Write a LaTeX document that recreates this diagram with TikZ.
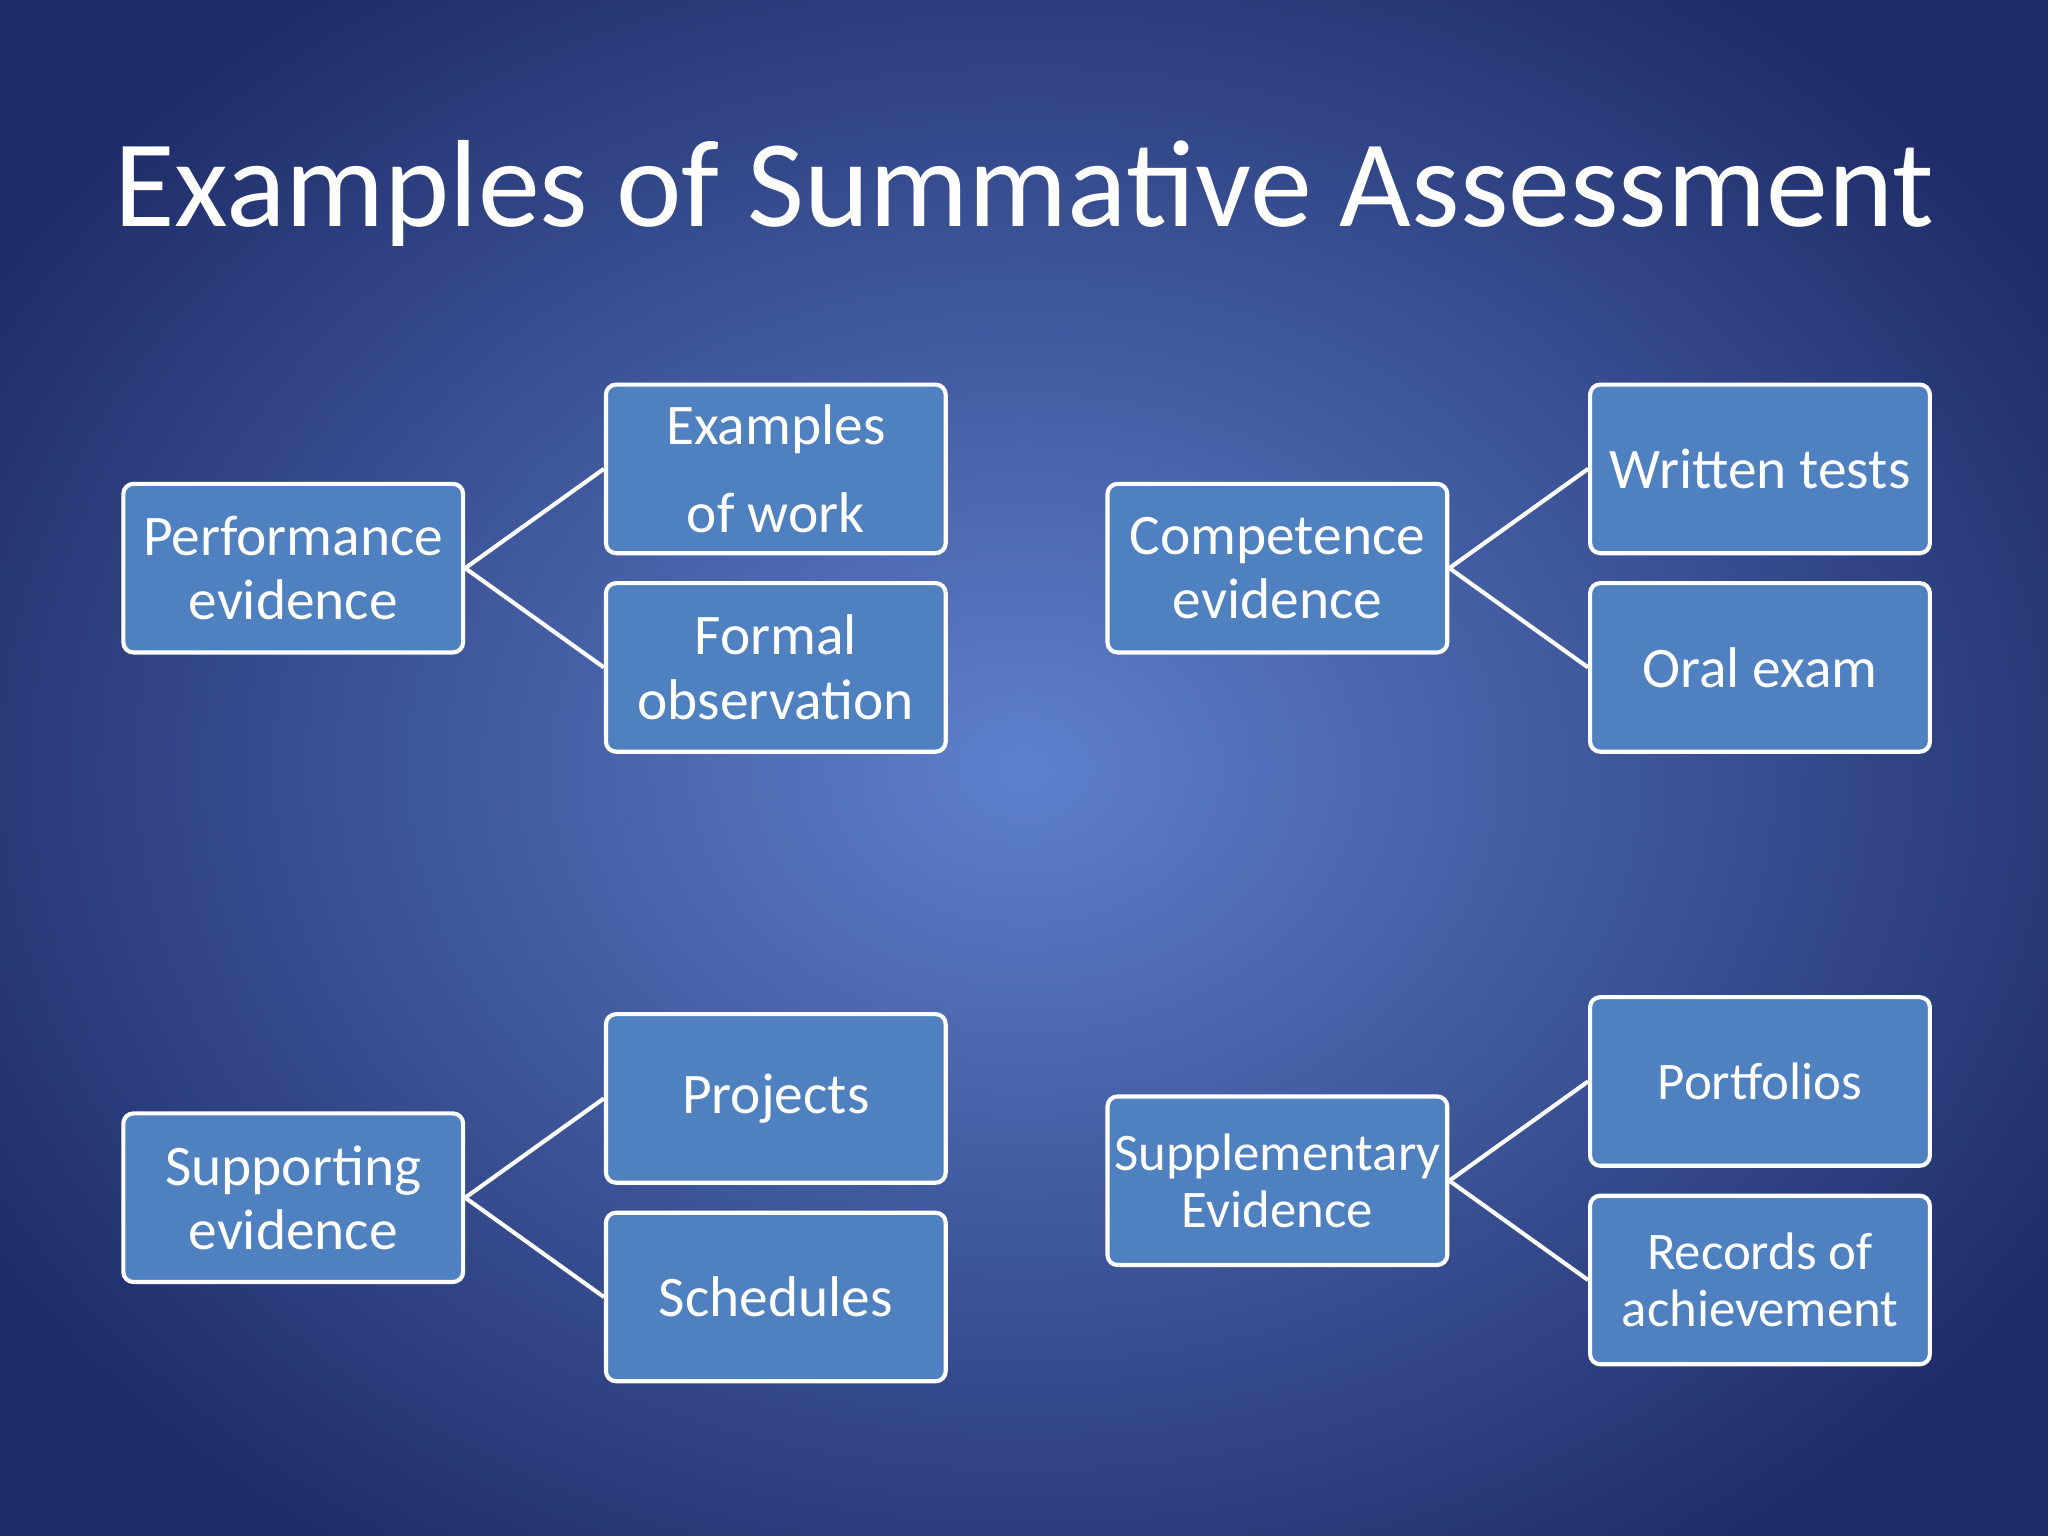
\documentclass[tikz,border=0pt]{standalone}
\usepackage{fontspec}
\setmainfont{Carlito}
\begin{document}
\begin{tikzpicture}[x=0.01cm,y=-0.01cm,
  bx/.style={draw=white,line width=0.9pt,fill=boxc,rounded corners=2.2pt,minimum width=2.6cm,minimum height=1.29cm,text=white,align=center,font=\fontsize{12.5}{14}\selectfont,inner sep=1pt},
  ln/.style={draw=white,line width=0.9pt}]
\definecolor{boxc}{HTML}{4F80C0}
\definecolor{bgin}{HTML}{5E80CC}
\definecolor{bgout}{HTML}{1E2C68}
\useasboundingbox (0,0) rectangle (1568,1176);
\shade[inner color=bgin,outer color=bgout] (-150,-150) rectangle (1718,1326);
\node[text=white,font=\fontsize{27}{30}\selectfont] (title) at (784,148) {Examples of Summative Assessment};
\node[bx] (pe) at (224.5,435) {Performance\\evidence};
\node[bx,font=\fontsize{12.5}{19}\selectfont] (ew) at (594,359) {Examples\\of work};
\node[bx] (fo) at (594,511) {Formal\\observation};
\node[bx] (ce) at (978,435) {Competence\\evidence};
\node[bx] (wt) at (1347.5,359) {Written tests};
\node[bx] (oe) at (1347.5,511) {Oral exam};
\node[bx] (se) at (224.5,917) {Supporting\\evidence};
\node[bx] (pr) at (594,841) {Projects};
\node[bx] (sc) at (594,993) {Schedules};
\node[bx,font=\fontsize{11.5}{12.5}\selectfont] (su) at (978,904) {Supplementary\\Evidence};
\node[bx,font=\fontsize{11.5}{12.5}\selectfont] (po) at (1347.5,828) {Portfolios};
\node[bx,font=\fontsize{11.5}{12.5}\selectfont] (ra) at (1347.5,980) {Records of\\achievement};
\draw[ln] (pe.east) -- (ew.west);
\draw[ln] (pe.east) -- (fo.west);
\draw[ln] (ce.east) -- (wt.west);
\draw[ln] (ce.east) -- (oe.west);
\draw[ln] (se.east) -- (pr.west);
\draw[ln] (se.east) -- (sc.west);
\draw[ln] (su.east) -- (po.west);
\draw[ln] (su.east) -- (ra.west);
\end{tikzpicture}
\end{document}
